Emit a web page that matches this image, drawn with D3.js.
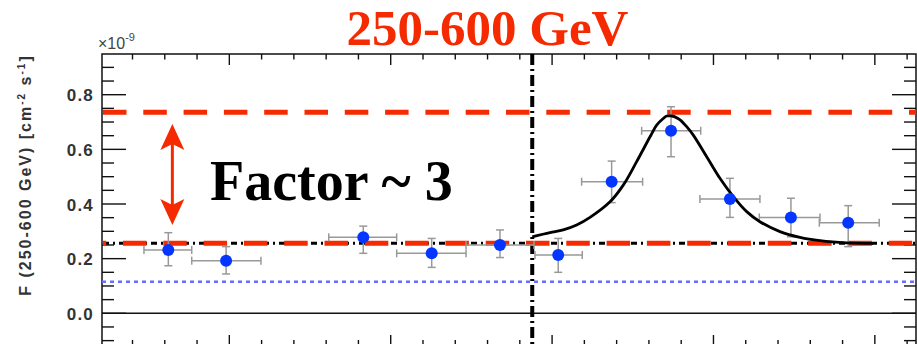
<!DOCTYPE html>
<html>
<head>
<meta charset="utf-8">
<script src="https://cdn.jsdelivr.net/npm/d3@7"></script>
<style>
  html, body { margin: 0; padding: 0; background: #fff; }
  svg { display: block; }
</style>
</head>
<body>
<svg id="chart" width="917" height="344"></svg>
<script>
// ---------------- data ----------------
const titleText = "250-600 GeV";
const annotationText = "Factor ~ 3";
const yTickValues = [0.0, 0.2, 0.4, 0.6, 0.8];
const yTickLabels = ["0.0", "0.2", "0.4", "0.6", "0.8"];
// time bins (arbitrary day units), flux in 1e-9 cm^-2 s^-1
const binCenter = [-3.78, -0.20, 8.30, 12.54, 16.77, 20.38, 23.69, 27.37, 31.02, 34.80, 38.35];
const binLow    = [-5.29, -2.33, 6.16, 10.37, 14.67, 18.94, 21.83, 25.55, 29.16, 32.84, 36.56];
const binHigh   = [-2.33, 1.96, 10.37, 14.67, 18.88, 21.87, 25.61, 29.21, 32.88, 36.60, 40.27];
const fluxValue = [0.232, 0.1925, 0.278, 0.2195, 0.250, 0.2133, 0.4815, 0.668, 0.418, 0.351, 0.3316];
const fluxLow   = [0.174, 0.144, 0.2195, 0.168, 0.204, 0.150, 0.405, 0.573, 0.351, 0.280, 0.244];
const fluxHigh  = [0.295, 0.244, 0.319, 0.274, 0.305, 0.274, 0.557, 0.756, 0.494, 0.421, 0.394];
// flare model curve
const curveT    = [18.77, 19.87, 20.69, 21.52, 22.35, 23.59, 24.41, 25.24, 26.07, 26.48, 26.89, 27.10, 27.40, 27.61, 27.93, 28.34, 28.75, 29.58, 30.40, 31.23, 32.06, 32.88, 34.12, 35.36, 36.60, 38.25, 39.90];
const curveF    = [0.280, 0.295, 0.305, 0.323, 0.351, 0.408, 0.469, 0.555, 0.646, 0.689, 0.713, 0.722, 0.722, 0.719, 0.708, 0.683, 0.652, 0.573, 0.494, 0.427, 0.372, 0.335, 0.299, 0.278, 0.266, 0.258, 0.256];
// reference levels
const highLevel = 0.7355;
const lowLevel = 0.256;
const baselineLevel = 0.256;
const blueLevel = 0.1157;
const flareStart = 18.77;
const arrowT = -3.53;
const arrowTop = 0.693;
const arrowBottom = 0.323;

// ---------------- layout ----------------
const svg = d3.select("#chart");
const L = 102, R = 916, T = 54, B = 345;
const x = d3.scaleLinear().domain([-7.89, 42.55]).range([L, R]);
const y = d3.scaleLinear().domain([0, 0.8]).range([313.3, 94.7]);

const RED = "#f52a00";
const BLUE = "#0536ff";

svg.append("defs").append("clipPath").attr("id", "clip")
  .append("rect").attr("x", L).attr("y", T).attr("width", R - L).attr("height", B - T);

// ---------------- axes ----------------
const minorY = d3.range(-0.1, 0.951, 0.05).map(v => +v.toFixed(2));
const isMajorY = v => Math.abs(v * 10 - Math.round(v * 10)) < 1e-6 && Math.round(v * 10) % 2 === 0;

const gTicks = svg.append("g").attr("stroke", "#111").attr("stroke-width", 1.4);
minorY.forEach(v => {
  if (y(v) < T || y(v) > B) return;
  const len = isMajorY(v) ? 24 : 12;
  gTicks.append("line").attr("x1", L).attr("x2", L + len).attr("y1", y(v)).attr("y2", y(v));
  gTicks.append("line").attr("x1", R).attr("x2", R - len).attr("y1", y(v)).attr("y2", y(v));
});
const minorX = d3.range(-6, 43, 2);
minorX.forEach(v => {
  const major = v % 10 === 0;
  gTicks.append("line").attr("x1", x(v)).attr("x2", x(v)).attr("y1", T).attr("y2", T + (major ? 11 : 5.5));
  gTicks.append("line").attr("x1", x(v)).attr("x2", x(v)).attr("y1", B).attr("y2", B - (major ? 10 : 5));
});

svg.append("rect").attr("x", L).attr("y", T).attr("width", R - L).attr("height", B - T)
  .attr("fill", "none").attr("stroke", "#111").attr("stroke-width", 1.5);

// y tick labels
svg.append("g").selectAll("text").data(yTickValues).join("text")
  .attr("x", 94).attr("y", d => y(d) + 6.5)
  .attr("text-anchor", "end")
  .attr("font-family", "Liberation Sans, Arial, sans-serif")
  .attr("font-size", 17).attr("font-weight", "bold").attr("letter-spacing", 1.2)
  .attr("fill", "#333")
  .text((d, i) => yTickLabels[i]);

// exponent
const ex = svg.append("text").attr("x", 98).attr("y", 49)
  .attr("font-family", "Liberation Sans, Arial, sans-serif").attr("font-size", 16).attr("fill", "#444");
ex.append("tspan").text("×10");
ex.append("tspan").attr("dy", -8).attr("font-size", 11).text("-9");

// y axis label
const yl = svg.append("text")
  .attr("transform", "translate(31,175) rotate(-90)")
  .attr("text-anchor", "middle")
  .attr("font-family", "Liberation Sans, Arial, sans-serif")
  .attr("font-size", 16).attr("letter-spacing", 2).attr("font-weight", "bold")
  .attr("fill", "#333");
yl.append("tspan").text("F (250-600 GeV)  [cm");
yl.append("tspan").attr("dy", -6).attr("font-size", 10).text("-2");
yl.append("tspan").attr("dy", 6).text(" s");
yl.append("tspan").attr("dy", -6).attr("font-size", 10).text("-1");
yl.append("tspan").attr("dy", 6).text("]");

// ---------------- plot contents ----------------
const g = svg.append("g").attr("clip-path", "url(#clip)");

g.append("line").attr("x1", L).attr("x2", R).attr("y1", y(0)).attr("y2", y(0))
  .attr("stroke", "#111").attr("stroke-width", 1.5);

g.append("line").attr("x1", L).attr("x2", R).attr("y1", y(blueLevel)).attr("y2", y(blueLevel))
  .attr("stroke", "#6b6bff").attr("stroke-width", 2.5).attr("stroke-dasharray", "4,4");

g.append("line").attr("x1", L + 1).attr("x2", R).attr("y1", y(baselineLevel)).attr("y2", y(baselineLevel))
  .attr("stroke", "#000").attr("stroke-width", 3).attr("stroke-dasharray", "6,4,2,4");

g.append("line").attr("x1", x(flareStart)).attr("x2", x(flareStart)).attr("y1", T).attr("y2", B)
  .attr("stroke", "#000").attr("stroke-width", 4).attr("stroke-dasharray", "11,4,2,4");

g.append("line").attr("x1", L + 1).attr("x2", R).attr("y1", y(highLevel)).attr("y2", y(highLevel))
  .attr("stroke", RED).attr("stroke-width", 5).attr("stroke-dasharray", "23.5,16.8");
g.append("line").attr("x1", L + 1).attr("x2", R).attr("y1", y(lowLevel)).attr("y2", y(lowLevel))
  .attr("stroke", RED).attr("stroke-width", 5).attr("stroke-dasharray", "23.5,16.8")
  .attr("stroke-dashoffset", 20.3);

const eb = g.append("g").attr("stroke", "#999").attr("stroke-width", 1.5).attr("fill", "none");
binCenter.forEach((c, i) => {
  const cy = y(fluxValue[i]);
  eb.append("line").attr("x1", x(binLow[i])).attr("x2", x(binHigh[i])).attr("y1", cy).attr("y2", cy);
  eb.append("line").attr("x1", x(binLow[i])).attr("x2", x(binLow[i])).attr("y1", cy - 4).attr("y2", cy + 4);
  eb.append("line").attr("x1", x(binHigh[i])).attr("x2", x(binHigh[i])).attr("y1", cy - 4).attr("y2", cy + 4);
  eb.append("line").attr("x1", x(c)).attr("x2", x(c)).attr("y1", y(fluxLow[i])).attr("y2", y(fluxHigh[i]));
  eb.append("line").attr("x1", x(c) - 4).attr("x2", x(c) + 4).attr("y1", y(fluxLow[i])).attr("y2", y(fluxLow[i]));
  eb.append("line").attr("x1", x(c) - 4).attr("x2", x(c) + 4).attr("y1", y(fluxHigh[i])).attr("y2", y(fluxHigh[i]));
});

const curvePts = curveT.map((t, i) => [t, curveF[i]]);
g.append("path").datum(curvePts)
  .attr("d", d3.line().x(d => x(d[0])).y(d => y(d[1])).curve(d3.curveCatmullRom.alpha(0.5)))
  .attr("fill", "none").attr("stroke", "#000").attr("stroke-width", 2.8);

g.append("g").selectAll("circle").data(binCenter).join("circle")
  .attr("cx", d => x(d)).attr("cy", (d, i) => y(fluxValue[i]))
  .attr("r", 6).attr("fill", BLUE);

const ax = x(arrowT), at = y(arrowTop), ab = y(arrowBottom);
g.append("line").attr("x1", ax).attr("x2", ax).attr("y1", at + 10).attr("y2", ab - 10)
  .attr("stroke", RED).attr("stroke-width", 3);
g.append("path").attr("d", `M${ax},${at} L${ax + 12},${at + 26} L${ax},${at + 20} L${ax - 12},${at + 26} Z`).attr("fill", RED);
g.append("path").attr("d", `M${ax},${ab} L${ax + 12},${ab - 26} L${ax},${ab - 20} L${ax - 12},${ab - 26} Z`).attr("fill", RED);

svg.append("text").attr("x", 210).attr("y", 200)
  .attr("font-family", "Liberation Serif, Times New Roman, serif")
  .attr("font-weight", "bold").attr("font-size", 56).attr("fill", "#000")
  .text(annotationText);

svg.append("text").attr("x", 487.5).attr("y", 45).attr("text-anchor", "middle")
  .attr("font-family", "Liberation Serif, Times New Roman, serif")
  .attr("font-weight", "bold").attr("font-size", 51).attr("fill", RED)
  .text(titleText);
</script>
</body>
</html>
